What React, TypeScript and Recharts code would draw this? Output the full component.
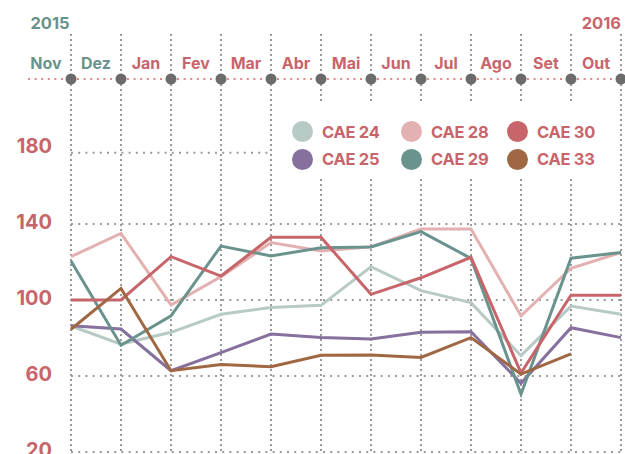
import React from 'react';
import { LineChart, Line, XAxis, YAxis, CartesianGrid, ReferenceLine, Legend } from 'recharts';

const months = ['Nov', 'Dez', 'Jan', 'Fev', 'Mar', 'Abr', 'Mai', 'Jun', 'Jul', 'Ago', 'Set', 'Out'];
const yearLabels = ['2015', '2016'];
const yTicks = [20, 60, 100, 140, 180];

const cae24 = [86.3, 76.8, 83, 92.5, 96, 97.2, 117.5, 104.9, 98.6, 70.7, 96.8, 92.5];
const cae25 = [86.5, 84.7, 62.8, 72.3, 82.1, 80.2, 79.5, 83, 83.3, 56.2, 85.4, 80.2];
const cae28 = [122.8, 135, 97.4, 112.3, 130.2, 125.8, 128, 137.4, 137.4, 91.7, 116.7, 125];
const cae29 = [120.5, 76.2, 91.7, 128.4, 123.2, 127.5, 127.9, 136, 121.9, 50.4, 122, 125];
const cae30 = [100, 100, 122.8, 112.6, 133, 133, 103, 111.7, 122.5, 61.6, 102.5, 102.5];
const cae33 = [84.6, 106.1, 62.8, 66.1, 64.9, 70.9, 71, 69.8, 80.2, 61, 71.6, null];

const series = [
  { key: 'cae24', name: 'CAE 24', values: cae24, color: '#b7cac6' },
  { key: 'cae28', name: 'CAE 28', values: cae28, color: '#e3b1b1' },
  { key: 'cae30', name: 'CAE 30', values: cae30, color: '#c8656b' },
  { key: 'cae25', name: 'CAE 25', values: cae25, color: '#85709e' },
  { key: 'cae29', name: 'CAE 29', values: cae29, color: '#6a938e' },
  { key: 'cae33', name: 'CAE 33', values: cae33, color: '#a06743' },
];
const drawOrder = ['cae24', 'cae28', 'cae25', 'cae29', 'cae30', 'cae33'];

const data = months.map((m, i) => {
  const row: any = { month: m };
  series.forEach((s) => { row[s.key] = s.values[i]; });
  return row;
});

const RED = '#c8656b';
const TEAL = '#6a938e';
const FONT = 'Inter, "Open Sans", sans-serif';

const TopTick = (props: any) => {
  const { x, payload, index } = props;
  const isFirst = index === 0;
  const isLast = index === months.length - 1;
  const color = index < 2 ? TEAL : RED;
  return (
    <g>
      <line x1={isFirst ? x - 43 : x - 44} x2={x - 6} y1={79} y2={79}
        stroke="#dc8a8d" strokeWidth={2} strokeDasharray="2 4.6" />
      {isLast && <line x1={x + 6} x2={x + 12} y1={79} y2={79} stroke="#dc8a8d" strokeWidth={2} strokeDasharray="2 4.6" />}
      <circle cx={x} cy={79} r={5.5} fill="#6b6b6b" />
      <text x={x - 25} y={69} textAnchor="middle" fill={color} fontFamily={FONT} fontWeight={700} fontSize={16}>
        {payload.value}
      </text>
      {isFirst && (
        <text x={x - 21} y={29} textAnchor="middle" fill={TEAL} fontFamily={FONT} fontWeight={700} fontSize={16.5}>
          {yearLabels[0]}
        </text>
      )}
      {isLast && (
        <text x={x} y={29} textAnchor="end" fill={RED} fontFamily={FONT} fontWeight={700} fontSize={16.5}>
          {yearLabels[1]}
        </text>
      )}
    </g>
  );
};

const LeftTick = (props: any) => {
  const { x, y, payload } = props;
  return (
    <text x={x} y={y + 5} textAnchor="end" fill={RED} fontFamily={FONT} fontWeight={700} fontSize={20}>
      {payload.value}
    </text>
  );
};

const LegendContent = () => {
  const rows = [series.slice(0, 3), series.slice(3, 6)];
  const widths = [109, 106, 100];
  return (
    <div style={{ paddingLeft: 9, paddingTop: 15 }}>
      {rows.map((r, ri) => (
        <div key={ri} style={{ display: 'flex', height: 27.6, alignItems: 'center' }}>
          {r.map((s, ci) => (
            <div key={s.key} style={{ display: 'flex', alignItems: 'center', width: widths[ci] }}>
              <span style={{ width: 21, height: 21, borderRadius: '50%', background: s.color, display: 'inline-block' }} />
              <span style={{ marginLeft: 9, color: RED, fontFamily: FONT, fontWeight: 700, fontSize: 16.5, letterSpacing: -0.3 }}>
                {s.name}
              </span>
            </div>
          ))}
        </div>
      ))}
    </div>
  );
};

export default function App() {
  return (
    <div style={{ position: 'absolute', left: 0, top: 0, width: 625, height: 454, overflow: 'hidden', background: '#fff' }}>
      <LineChart width={630} height={490} data={data} margin={{ top: 33, right: 0, bottom: 0, left: 0 }}>
        <CartesianGrid vertical={false} horizontalValues={[20, 60, 100, 140]} stroke="#9a9a9a" strokeWidth={2} strokeDasharray="2 5.2" />
        <CartesianGrid horizontal={false} stroke="#9a9a9a" strokeWidth={2} strokeDasharray="2 3" />
        <ReferenceLine segment={[{ x: 'Nov', y: 177.5 }, { x: 'Mar', y: 177.5 }]} stroke="#9a9a9a" strokeWidth={2} strokeDasharray="2 5.2" />
        <XAxis dataKey="month" orientation="top" height={1} axisLine={false} tickLine={false} interval={0}
          padding={{ left: 0, right: 9 }} tick={<TopTick />} />
        <YAxis domain={[0, 240]} ticks={yTicks} width={71} axisLine={false} tickLine={false} tickSize={0} tickMargin={19}
          tick={<LeftTick />} />
        <Legend content={<LegendContent />} layout="horizontal" verticalAlign="middle" align="center"
          wrapperStyle={{ position: 'absolute', left: 283, top: 103, width: 332, height: 73, background: '#fff' }} />
        {drawOrder.map((k) => {
          const s = series.find((x) => x.key === k)!;
          return (
            <Line key={k} type="linear" dataKey={k} name={s.name} stroke={s.color} strokeWidth={3}
              dot={false} activeDot={false} isAnimationActive={false} connectNulls={false} />
          );
        })}
      </LineChart>
    </div>
  );
}
